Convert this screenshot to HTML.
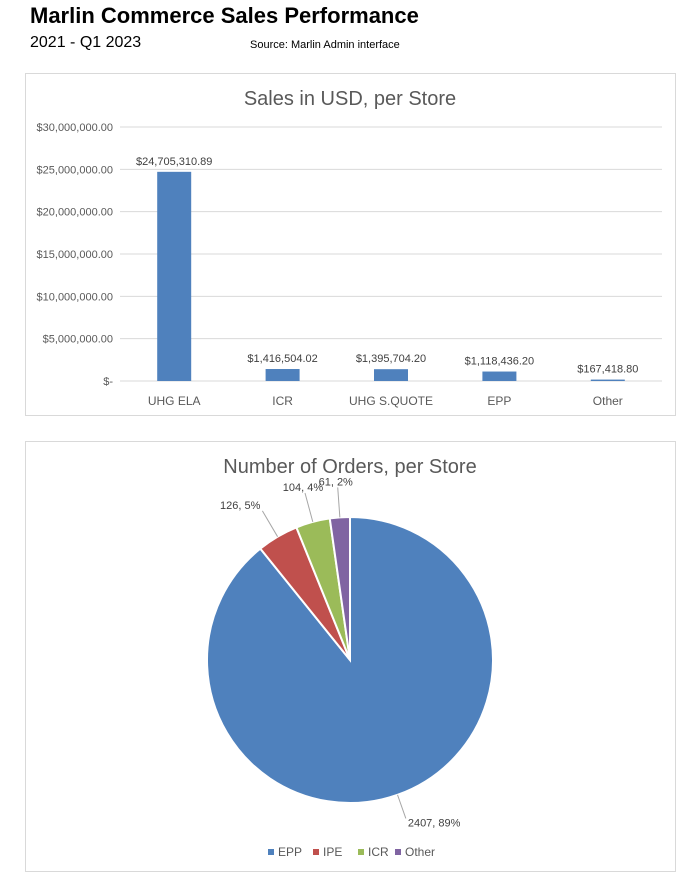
<!DOCTYPE html>
<html><head><meta charset="utf-8"><style>
body{margin:0;width:700px;height:884px;background:#fff;font-family:"Liberation Sans",sans-serif;position:relative;overflow:hidden}
.t{position:absolute;white-space:nowrap}
</style></head><body>
<div class="t" style="left:30px;top:3px;font-size:22px;font-weight:bold;color:#000">Marlin Commerce Sales Performance</div>
<div class="t" style="left:30px;top:34px;font-size:16px">2021 - Q1 2023</div>
<div class="t" style="left:250px;top:39px;font-size:11px">Source: Marlin Admin interface</div>
<svg width="700" height="884" style="position:absolute;left:0;top:0" font-family="Liberation Sans, sans-serif">
<rect x="25.5" y="73.5" width="650" height="342" fill="none" stroke="#d9d9d9"/>
<text x="350" y="105" text-anchor="middle" font-size="20" fill="#595959">Sales in USD, per Store</text>
<g id="bars"></g>
<rect x="25.5" y="441.5" width="650" height="430" fill="none" stroke="#d9d9d9"/>
<text x="350" y="473" text-anchor="middle" font-size="20" fill="#595959">Number of Orders, per Store</text>
<g id="pie"></g>
<g id="legend"></g>
</svg>
<script>
const barCats=["UHG ELA","ICR","UHG S.QUOTE","EPP","Other"];
const barVals=[24705310.89,1416504.02,1395704.20,1118436.20,167418.80];
const yTicks=[0,5000000,10000000,15000000,20000000,25000000,30000000];
const pieCats=["EPP","IPE","ICR","Other"];
const pieVals=[2407,126,104,61];
const pieColors=["#4f81bd","#c0504d","#9bbb59","#8064a2"];
const NS="http://www.w3.org/2000/svg";
function mk(p,t,a){const e=document.createElementNS(NS,t);for(const k in a)e.setAttribute(k,a[k]);p.appendChild(e);return e;}
const fmt=v=>"$"+v.toLocaleString("en-US",{minimumFractionDigits:2,maximumFractionDigits:2});
const y0=381,y1=127,vmax=30000000,px0=120,px1=662;
const ys=v=>y0-(v/vmax)*(y0-y1);
const bw=(px1-px0)/barCats.length;
const xs=i=>px0+bw*(i+0.5);
const gb=document.getElementById("bars");
yTicks.forEach(v=>{
 const l=mk(gb,"line",{x1:px0,x2:px1,y1:ys(v),y2:ys(v),stroke:"#d9d9d9"});
 
 
 const t=mk(gb,"text",{x:113,y:ys(v)+4,"text-anchor":"end","font-size":"11",fill:"#595959"});
 t.textContent=v===0?"$-":fmt(v);
 
 
});
barCats.forEach((c,i)=>{
 const r=mk(gb,"rect",{x:xs(i)-17,y:ys(barVals[i]),width:34,height:y0-ys(barVals[i]),fill:"#4f81bd"});
 
 
 const t=mk(gb,"text",{x:xs(i),y:ys(barVals[i])-7,"text-anchor":"middle","font-size":"11",fill:"#404040"});
 t.textContent=fmt(barVals[i]);
 
 
 const x=mk(gb,"text",{x:xs(i),y:405,"text-anchor":"middle","font-size":"12",fill:"#595959"});
 x.textContent=c;
 
 
});
const cx=350,cy=660,R=143;
const tot=pieVals.reduce((a,b)=>a+b,0);
const gp=document.getElementById("pie");
let a=0;
const pt=(ang,r)=>[cx+r*Math.sin(ang),cy-r*Math.cos(ang)];
pieVals.forEach((v,i)=>{
 const s=a,e=a+v/tot*2*Math.PI;a=e;
 const p0=pt(s,R),p1=pt(e,R);
 const path=mk(gp,"path",{d:`M${cx},${cy}L${p0[0]},${p0[1]}A${R},${R} 0 ${e-s>Math.PI?1:0} 1 ${p1[0]},${p1[1]}Z`,fill:pieColors[i],stroke:"#fff","stroke-width":"2"});
 
 
 const m=(s+e)/2;
 const q=pt(m,R),lp=pt(m,R+(i===0?25:30));
 const ln=mk(gp,"polyline",{points:`${q[0]},${q[1]} ${lp[0]},${lp[1]}`,fill:"none",stroke:"#a6a6a6"});
 
 
 const right=Math.sin(m)>0.3;
 const t=mk(gp,"text",{x:lp[0]+(right?2:-2),y:lp[1]+(i===0?8:-2),"text-anchor":right?"start":(Math.abs(Math.sin(m))<0.3?"middle":"end"),"font-size":"11",fill:"#404040"});
 t.textContent=v+", "+Math.round(v/tot*100)+"%";
 
 
});
const gl=document.getElementById("legend");
const lx=[268,313,358,395];
pieCats.forEach((c,i)=>{
 const r=mk(gl,"rect",{x:lx[i],y:849,width:6,height:6,fill:pieColors[i]});
 
 
 const t=mk(gl,"text",{x:lx[i]+10,y:856,"font-size":"12",fill:"#595959"});
 t.textContent=c;
 
 
});
</script>
</body></html>
